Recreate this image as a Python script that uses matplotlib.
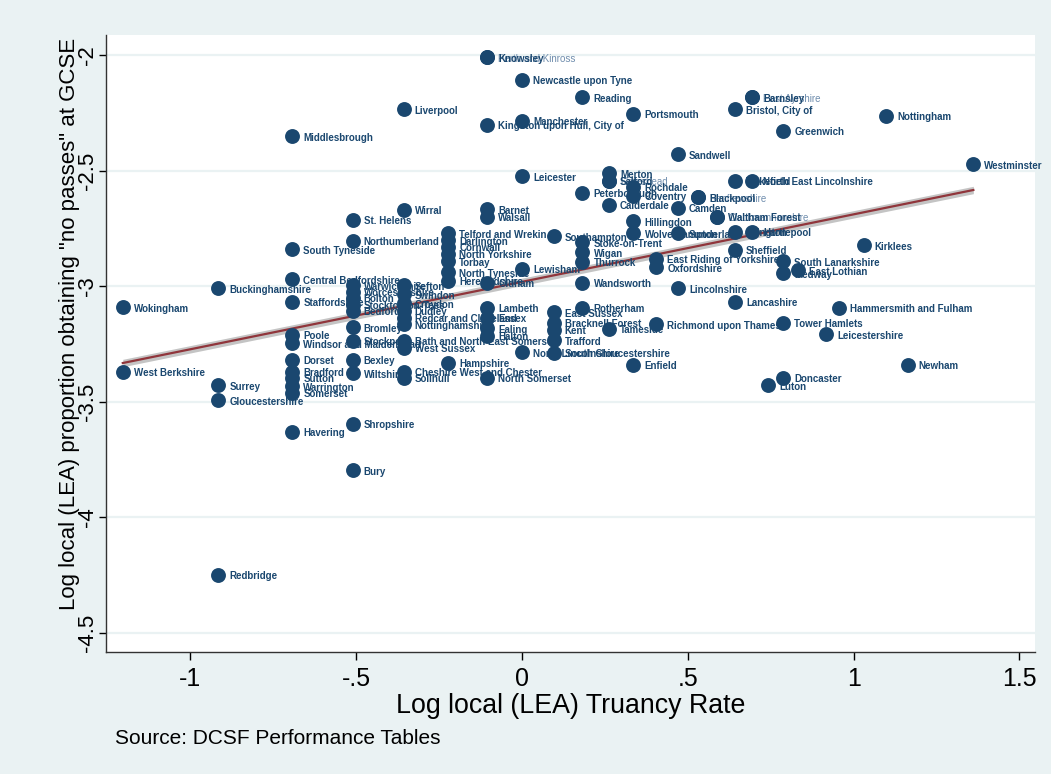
import numpy as np
import matplotlib
matplotlib.use("Agg")
import matplotlib.pyplot as plt

plt.rcParams["font.family"] = ["Liberation Sans", "DejaVu Sans"]

# LEA labels with log truancy rate (x) and log share with no GCSE passes (y)
names = [
    "Knowsley", "Newcastle upon Tyne", "Reading", "Liverpool",
    "Kingston upon Hull, City of", "Manchester", "Portsmouth", "Middlesbrough",
    "Barnsley", "Bristol, City of", "Nottingham", "Greenwich", "Sandwell",
    "Westminster", "Leicester", "Merton", "Salford", "Rochdale", "Peterborough",
    "Calderdale", "Coventry", "Blackpool", "Camden", "Wakefield",
    "North East Lincolnshire", "Waltham Forest", "Hillingdon", "Wirral",
    "Barnet", "Walsall", "St. Helens", "Hartlepool", "Islington",
    "Wolverhampton", "Sunderland", "Telford and Wrekin", "Darlington",
    "Cornwall", "North Yorkshire", "Torbay", "North Tyneside", "Herefordshire",
    "Northumberland", "South Tyneside", "Central Bedfordshire",
    "Buckinghamshire", "Wokingham", "Staffordshire", "Warwickshire",
    "Worcestershire", "Bolton", "Stockton-on-Tees", "Bedford", "Sefton",
    "Swindon", "Croydon", "Dudley", "Redcar and Cleveland", "Nottinghamshire",
    "Bath and North East Somerset", "West Sussex", "Solihull", "Bromley",
    "Poole", "Windsor and Maidenhead", "Stockport", "Dorset", "Bradford",
    "Sutton", "Warrington", "Somerset", "Bexley", "Wiltshire",
    "Cheshire West and Chester", "Hampshire", "North Somerset", "Lambeth",
    "Essex", "Ealing", "Halton", "Oldham", "Lewisham", "Southampton",
    "Stoke-on-Trent", "Wigan", "Thurrock", "Oxfordshire",
    "East Riding of Yorkshire", "Wandsworth", "Lincolnshire", "Rotherham",
    "East Sussex", "Bracknell Forest", "Kent", "Trafford", "Tameside",
    "Richmond upon Thames", "North Lincolnshire", "South Gloucestershire",
    "Enfield", "Lancashire", "Sheffield", "South Lanarkshire", "Medway",
    "East Lothian", "Kirklees", "Hammersmith and Fulham", "Tower Hamlets",
    "Leicestershire", "Newham", "Doncaster", "Luton", "West Berkshire",
    "Surrey", "Gloucestershire", "Havering", "Shropshire", "Bury", "Redbridge",
]
truancy = [
    -0.105, 0.0, 0.182, -0.357,
    -0.105, 0.0, 0.336, -0.693,
    0.693, 0.642, 1.099, 0.788, 0.470,
    1.361, 0.0, 0.262, 0.262, 0.336, 0.182,
    0.262, 0.336, 0.531, 0.470, 0.642,
    0.693, 0.588, 0.336, -0.357,
    -0.105, -0.105, -0.511, 0.693, 0.642,
    0.336, 0.470, -0.223, -0.223,
    -0.223, -0.223, -0.223, -0.223, -0.223,
    -0.511, -0.693, -0.693,
    -0.916, -1.204, -0.693, -0.511,
    -0.511, -0.511, -0.511, -0.511, -0.357,
    -0.357, -0.357, -0.357, -0.357, -0.357,
    -0.357, -0.357, -0.357, -0.511,
    -0.693, -0.693, -0.511, -0.693, -0.693,
    -0.693, -0.693, -0.693, -0.511, -0.511,
    -0.357, -0.223, -0.105, -0.105,
    -0.105, -0.105, -0.105, -0.105, 0.0, 0.095,
    0.182, 0.182, 0.182, 0.405,
    0.405, 0.182, 0.470, 0.182,
    0.095, 0.095, 0.095, 0.095, 0.262,
    0.405, 0.0, 0.095,
    0.336, 0.642, 0.642, 0.788, 0.788,
    0.833, 1.030, 0.956, 0.788,
    0.916, 1.163, 0.788, 0.742, -1.204,
    -0.916, -0.916, -0.693, -0.511, -0.511, -0.916,
]
nopass = [
    -2.009, -2.108, -2.182, -2.234,
    -2.303, -2.285, -2.255, -2.351,
    -2.182, -2.234, -2.264, -2.329, -2.429,
    -2.472, -2.524, -2.511, -2.545, -2.571, -2.597,
    -2.649, -2.610, -2.615, -2.662, -2.545,
    -2.545, -2.701, -2.719, -2.671,
    -2.667, -2.701, -2.714, -2.766, -2.766,
    -2.771, -2.771, -2.771, -2.801,
    -2.831, -2.861, -2.892, -2.940, -2.978,
    -2.805, -2.840, -2.970,
    -3.009, -3.091, -3.069, -2.996,
    -3.026, -3.052, -3.082, -3.108, -2.996,
    -3.035, -3.074, -3.108, -3.138, -3.165,
    -3.238, -3.268, -3.398, -3.178,
    -3.212, -3.247, -3.238, -3.320, -3.372,
    -3.398, -3.433, -3.463, -3.320, -3.377,
    -3.372, -3.333, -3.398, -3.095,
    -3.138, -3.182, -3.216, -2.987, -2.926, -2.784,
    -2.810, -2.853, -2.896, -2.918,
    -2.883, -2.987, -3.009, -3.095,
    -3.113, -3.160, -3.190, -3.234, -3.186,
    -3.165, -3.286, -3.290,
    -3.342, -3.069, -2.844, -2.892, -2.944,
    -2.931, -2.823, -3.095, -3.160,
    -3.208, -3.342, -3.398, -3.429, -3.372,
    -3.429, -3.494, -3.632, -3.597, -3.797, -4.251,
]

# second group, labels drawn in a lighter tone
light_names = ["Perth and Kinross", "East Ayrshire", "Renfrewshire", "Gateshead", "Clackmannanshire"]
light_truancy = [-0.105, 0.693, 0.531, 0.262, 0.588]
light_nopass = [-2.009, -2.182, -2.615, -2.545, -2.701]

# fitted line (ends of the line)
fit_x = [-1.204, 1.361]
fit_y = [-3.333, -2.584]

navy = "#1A476F"
light = "#6F8DAD"
maroon = "#90353B"
bg = "#EAF2F3"

fig = plt.figure(figsize=(10.51, 7.74), dpi=100, facecolor=bg)
ax = fig.add_axes([0.1009, 0.1576, 0.8839, 0.7972])
ax.set_facecolor("white")

x = np.array(truancy)
y = np.array(nopass)

# fit line with a thin confidence band
xs = np.linspace(fit_x[0], fit_x[1], 100)
ys = np.interp(xs, fit_x, fit_y)
band = 0.016
ax.fill_between(xs, ys - band, ys + band, color="#C4C4C4", lw=0, zorder=2)
ax.plot(xs, ys, color=maroon, lw=1.6, zorder=3)

ax.scatter(light_truancy, light_nopass, s=115, color=navy, lw=0, zorder=4)
for n, xi, yi in zip(light_names, light_truancy, light_nopass):
    ax.annotate(n, (xi, yi), xytext=(8, -1), textcoords="offset points",
                va="center", ha="left", fontsize=7, color=light, zorder=4)

ax.scatter(x, y, s=115, color=navy, lw=0, zorder=5)
for n, xi, yi in zip(names, truancy, nopass):
    ax.annotate(n, (xi, yi), xytext=(8, -1), textcoords="offset points",
                va="center", ha="left", fontsize=7, color=navy,
                fontweight="bold", zorder=6)

ax.set_xlim(-1.2545, 1.547)
ax.set_ylim(-4.584, -1.913)
ax.set_xticks([-1, -0.5, 0, 0.5, 1, 1.5])
ax.set_xticklabels(["-1", "-.5", "0", ".5", "1", "1.5"])
ax.set_yticks([-2, -2.5, -3, -3.5, -4, -4.5])
ax.set_yticklabels(["-2", "-2.5", "-3", "-3.5", "-4", "-4.5"], rotation=90, va="center")
ax.tick_params(axis="x", labelsize=18, length=6, width=1, pad=5)
ax.tick_params(axis="y", labelsize=16, length=5, width=1, pad=0.5)
ax.grid(axis="y", color=bg, lw=1.6)
ax.set_axisbelow(True)
for side in ["top", "right"]:
    ax.spines[side].set_visible(False)
for side in ["left", "bottom"]:
    ax.spines[side].set_color("#333333")
    ax.spines[side].set_linewidth(1.0)

ax.set_xlabel("Log local (LEA) Truancy Rate", fontsize=19.3, labelpad=1)
ax.set_ylabel('Log local (LEA) proportion obtaining "no passes" at GCSE', fontsize=16)
ax.yaxis.set_label_coords(-0.028, 0.532)
fig.text(0.1094, 0.046, "Source: DCSF Performance Tables", fontsize=15, va="center")

fig.savefig("out.png", dpi=100, facecolor=bg)
